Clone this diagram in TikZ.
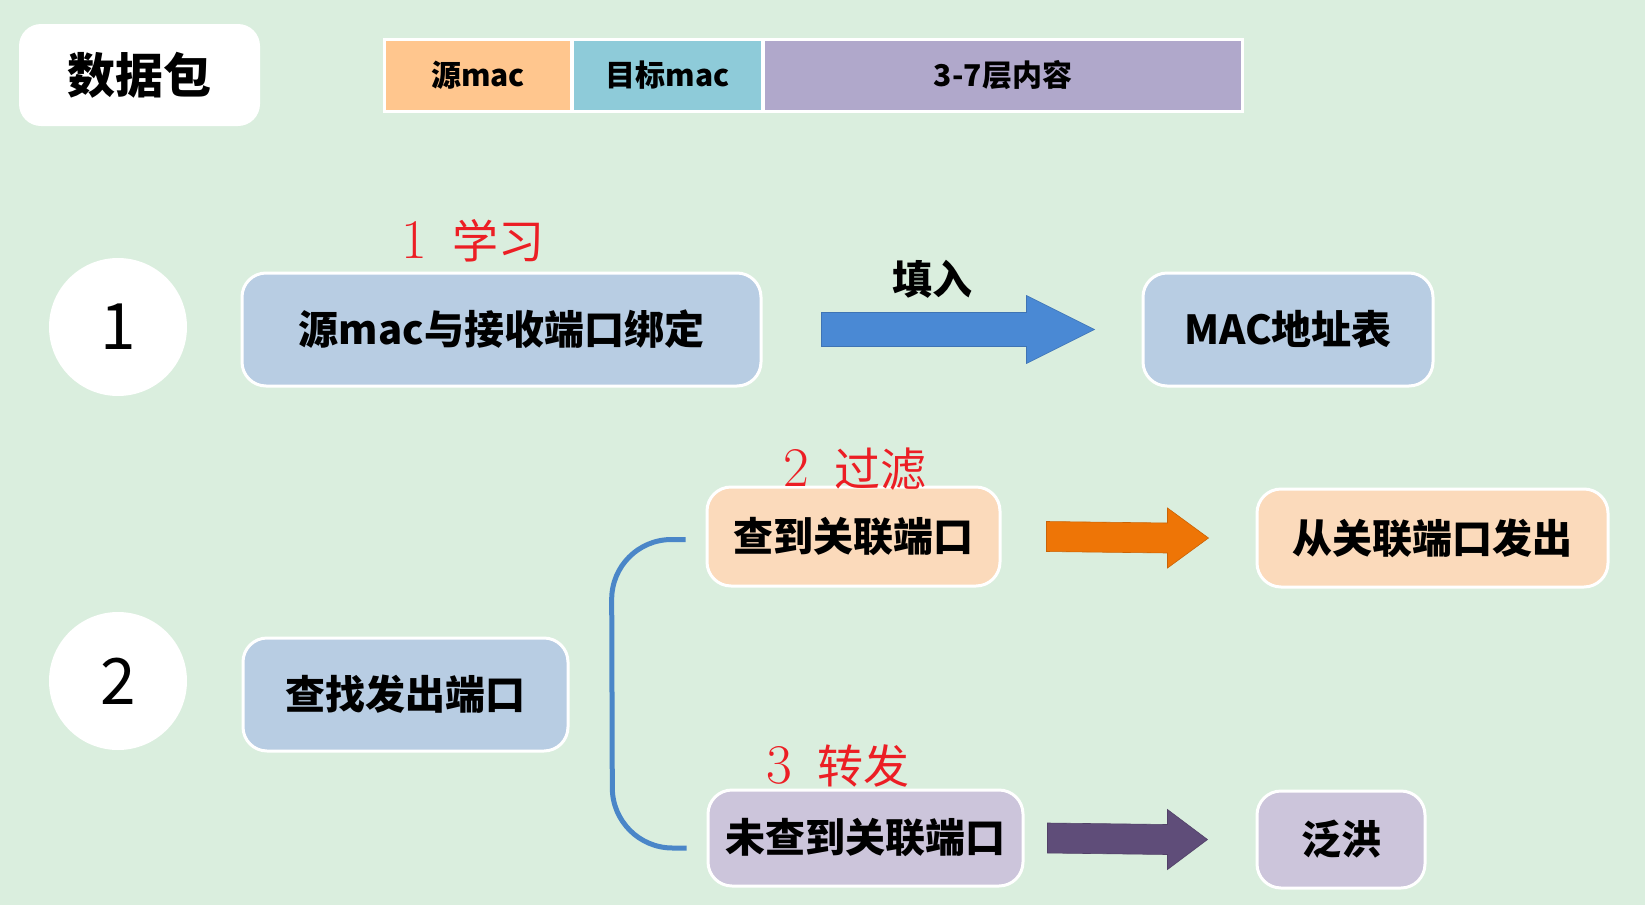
\documentclass[tikz,border=0pt]{standalone}
\usepackage{fontspec}
\usepackage{tikz}
\usetikzlibrary{%
  calc%
}
\newfontfamily\cjk{Noto Sans CJK SC}[BoldFont={Noto Sans CJK SC Black}]

\definecolor{bggreen}{RGB}{218,238,222}
\definecolor{boxblue}{RGB}{184,205,227}
\definecolor{boxorange}{RGB}{251,218,187}
\definecolor{boxpurple}{RGB}{204,197,219}
\definecolor{srcorange}{RGB}{255,198,142}
\definecolor{dstblue}{RGB}{142,203,217}
\definecolor{payviolet}{RGB}{176,168,203}
\definecolor{arrblue}{RGB}{74,137,212}
\definecolor{arrorange}{RGB}{238,117,6}
\definecolor{arrpurple}{RGB}{95,77,121}
\definecolor{bracketblue}{RGB}{74,134,200}
\definecolor{labelred}{RGB}{236,30,36}

%% fat arrow: colour, from, to, half shaft, head length
\newcommand\blockarrow[5]{%
  \filldraw[#1] ($(#2)+(0,-#4)$) -- ($(#3)+(-#5,-#4)$) -- ($(#3)+(-#5,-2*#4)$)
  -- (#3) -- ($(#3)+(-#5,2*#4)$) -- ($(#3)+(-#5,#4)$) -- ($(#2)+(0,#4)$) -- cycle;}
%% red step label: digit, words
\newcommand\steplabel[2]{{\fontsize{28pt}{28pt}\selectfont #1}\hspace{0.55em}{\cjk #2}}

\begin{document}
\begin{tikzpicture}[x=0.5pt,y=-0.5pt,
  box/.style={draw=white,line width=1.5pt,rounded corners=12pt,inner sep=0pt,
    minimum height=56.5pt,font=\cjk\bfseries\fontsize{20pt}{24pt}\selectfont},
  cell/.style={inner sep=0pt,minimum height=34.5pt,
    font=\cjk\bfseries\fontsize{15pt}{18pt}\selectfont},
  numdisc/.style={circle,fill=white,minimum size=69pt,inner sep=0pt,
    font=\cjk\fontsize{32pt}{32pt}\selectfont},
  redlabel/.style={text=labelred,inner sep=0pt,
    font=\fontsize{23pt}{26pt}\selectfont},
  bracket/.style={draw=bracketblue,line width=2.5pt,rounded corners=30pt}]

  \useasboundingbox (0,0) rectangle (1645,905);
  \fill[bggreen] (0,0) rectangle (1645,905);

  %%%%%%%%%%%%%%%%
  %% packet header
  \node[box,fill=white,draw=none,minimum width=120.5pt,minimum height=51pt,
    rounded corners=11pt,font=\cjk\bfseries\fontsize{24pt}{28pt}\selectfont]
    (packet) at (139.5,75) {数据包};

  \fill[white] (383,38) rectangle (1244,113);
  \node[cell,fill=srcorange,minimum width=92pt] (srcmac) at (478,75.5) {源mac};
  \node[cell,fill=dstblue,minimum width=93.5pt] (dstmac) at (667.5,75.5) {目标mac};
  \node[cell,fill=payviolet,minimum width=238pt] (payload) at (1003,75.5) {3-7层内容};

  %%%%%%%%%%%%%%%%
  %% 1. learning
  \node[numdisc] (one) at (118,327) {1};
  \node[box,fill=boxblue,minimum width=259.5pt] (learn) at (501.5,329.5)
    {源mac与接收端口绑定};
  \node[redlabel] (learnlbl) at (473,241) {\steplabel{1}{学习}};

  \node[box,fill=boxblue,minimum width=145pt] (mactab) at (1288,329.5) {MAC地址表};

  \coordinate (fillS) at ($(learn.east)+(59,0)$);
  \coordinate (fillE) at ($(mactab.west)+(-47,0)$);
  \blockarrow{fill=arrblue,draw=arrblue!85!black,line width=0.3pt}{fillS}{fillE}{17}{68}
  \node[font=\cjk\bfseries\fontsize{20pt}{24pt}\selectfont] (fillin) at (932,279) {填入};

  %%%%%%%%%%%%%%%%
  %% 2. lookup
  \node[numdisc] (two) at (118,681) {2};
  \node[box,fill=boxblue,minimum width=162.5pt] (lookup) at (405.5,694.5) {查找发出端口};

  % filter branch
  \node[box,fill=boxorange,minimum width=146.5pt,minimum height=49.5pt] (found)
    at (853.5,536.5) {查到关联端口};
  \node[redlabel] (filterlbl) at (855,469) {\steplabel{2}{过滤}};
  \node[box,fill=boxorange,minimum width=175.5pt,minimum height=49pt] (sendout)
    at (1432.5,538) {从关联端口发出};

  \coordinate (foundS) at ($(found.east)+(45,0)$);
  \coordinate (foundE) at ($(sendout.west)+(-47,0)$);
  \blockarrow{fill=arrorange,draw=arrorange!85!black,line width=0.3pt}{foundS}{foundE}{15}{41}

  % forward branch
  \node[box,fill=boxpurple,minimum width=157.5pt,minimum height=48pt] (notfound)
    at (865.5,838) {未查到关联端口};
  \node[redlabel] (fwdlbl) at (838,766) {\steplabel{3}{转发}};
  \node[box,fill=boxpurple,minimum width=84pt,minimum height=48.5pt] (flood)
    at (1341,839.5) {泛洪};

  \coordinate (notfoundS) at ($(notfound.east)+(23,0)$);
  \coordinate (notfoundE) at ($(flood.west)+(-48,0)$);
  \blockarrow{fill=arrpurple,draw=arrpurple!85!black,line width=0.3pt}{notfoundS}{notfoundE}{15}{40}

  %% bracket
  \coordinate (brtop) at ($(found.west)+(-20,3)$);
  \coordinate (brbot) at ($(notfound.west)+(-20,10)$);
  \draw[bracket] (brtop) -- ($(brtop)+(-74,0)$) -- ($(brbot)+(-74,0)$) -- (brbot);

\end{tikzpicture}
\end{document}
